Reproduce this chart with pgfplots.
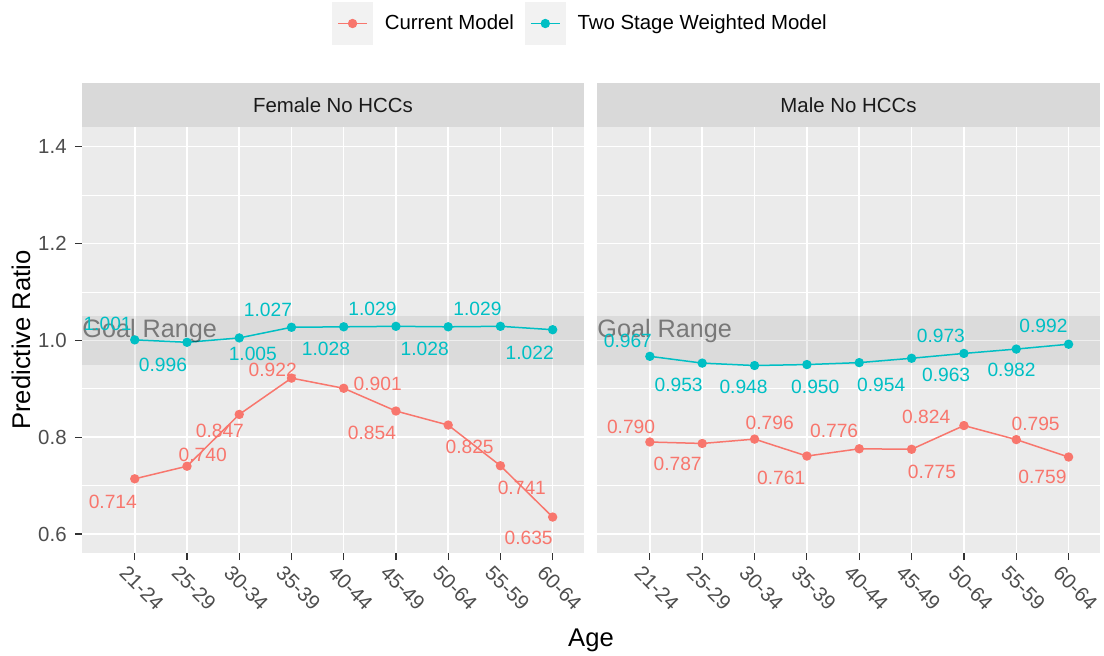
\documentclass[border=0pt]{standalone}
\usepackage{fontspec}
\setmainfont{Liberation Sans}
\usepackage{pgfplots}
\pgfplotsset{compat=1.18}
\usepackage{pgfplotstable}

\definecolor{cur}{HTML}{F8766D}
\definecolor{two}{HTML}{00BFC4}
\definecolor{panelbg}{HTML}{EBEBEB}
\definecolor{stripbg}{HTML}{D9D9D9}
\definecolor{tickc}{HTML}{4D4D4D}
\definecolor{tickm}{HTML}{333333}
\definecolor{stript}{HTML}{1A1A1A}

\pgfplotstableread{
x cur two
1 0.714 1.001
2 0.740 0.996
3 0.847 1.005
4 0.922 1.027
5 0.901 1.028
6 0.854 1.029
7 0.825 1.028
8 0.741 1.029
9 0.635 1.022
}\female

\pgfplotstableread{
x cur two
1 0.790 0.967
2 0.787 0.953
3 0.796 0.948
4 0.761 0.950
5 0.776 0.954
6 0.775 0.963
7 0.824 0.973
8 0.795 0.982
9 0.759 0.992
}\male

\pgfplotstableread{
x y lab
0.48 1.035 1.001
1.54 0.950 0.996
3.26 0.973 1.005
3.55 1.062 1.027
4.66 0.983 1.028
5.55 1.064 1.029
6.55 0.983 1.028
7.56 1.064 1.029
8.56 0.975 1.022
}\ftwolab

\pgfplotstableread{
x y lab
0.58 0.667 0.714
2.30 0.764 0.740
2.63 0.812 0.847
3.64 0.940 0.922
5.65 0.911 0.901
5.54 0.808 0.854
7.41 0.779 0.825
8.41 0.696 0.741
8.54 0.591 0.635
}\fcurlab

\pgfplotstableread{
x y lab
0.58 0.998 0.967
1.55 0.907 0.953
2.79 0.903 0.948
4.16 0.903 0.950
5.42 0.907 0.954
6.66 0.928 0.963
6.56 1.010 0.973
7.91 0.938 0.982
8.52 1.029 0.992
}\mtwolab

\pgfplotstableread{
x y lab
0.64 0.822 0.790
1.53 0.744 0.787
3.29 0.830 0.796
3.51 0.715 0.761
4.52 0.812 0.776
6.39 0.729 0.775
6.28 0.841 0.824
8.37 0.828 0.795
8.50 0.717 0.759
}\mcurlab

\newcommand{\tickfont}{\fontsize{10.2}{12}\selectfont}
\newcommand{\labfont}{\fontsize{9.6}{11}\selectfont}

\pgfplotsset{
  panel/.style={
    scale only axis, height=213pt,
    xmin=-0.01, xmax=9.6, ymin=0.5607, ymax=1.4407,
    axis background/.style={fill=panelbg},
    axis line style={draw=none},
    clip=false,
    xtick={1,...,9},
    xticklabels={21-24,25-29,30-34,35-39,40-44,45-49,50-64,55-59,60-64},
    ytick={0.6,0.8,1.0,1.2,1.4},
    minor ytick={0.7,0.9,1.1,1.3},
    grid=both,
    major grid style={white, line width=0.75pt},
    minor grid style={white, line width=0.4pt},
    tick align=outside, tick pos=left,
    major tick length=3.5pt, minor tick length=0pt,
    tick style={tickm, line width=0.6pt},
    xticklabel style={font=\tickfont, text=tickc, inner sep=0pt, xshift=-3.2pt, yshift=-2pt, rotate=-45, anchor=north west},
    yticklabel style={font=\tickfont, text=tickc, inner sep=0pt, anchor=east, xshift=-4pt},
  },
  band/.style={draw=none, fill=black, fill opacity=0.065, forget plot},
  lbl/.style={draw=none, mark=none, forget plot, nodes near coords, point meta=explicit symbolic,
    nodes near coords style={text=#1, font=\labfont, anchor=center, inner sep=0pt}},
  ser/.style={#1, line width=0.75pt, mark=*, mark size=1.95pt, mark options={solid}},
}

\begin{document}
\begin{tikzpicture}
\useasboundingbox (0,0) rectangle (552pt,-327.5pt);

% left panel
\begin{axis}[panel, width=251pt, at={(41pt,-276.5pt)}, anchor=south west,
  yticklabels={0.6,0.8,1.0,1.2,1.4},
  legend columns=2,
  legend cell align=left,
  legend style={at={(0.995,1.243)}, anchor=center, draw=none, fill=none,
    font=\tickfont, text=black,
    /tikz/every odd column/.append style={column sep=4pt},
    /tikz/every even column/.append style={column sep=3.5pt}},
  legend image code/.code={
    \fill[black!5] (0pt,-10.25pt) rectangle (19.5pt,10.25pt);
    \draw[mark repeat=2,mark phase=2,#1] plot coordinates {(2.5pt,0pt) (9.75pt,0pt) (17pt,0pt)};
  },
]
\addplot[band] coordinates {(-0.01,0.95) (9.6,0.95) (9.6,1.05) (-0.01,1.05)} -- cycle;
\fill[stripbg] (rel axis cs:0,1) rectangle ([yshift=22pt]rel axis cs:1,1);
\node[font=\tickfont, text=stript] at ([yshift=11pt]rel axis cs:0.5,1) {Female No HCCs};
\addplot[ser=cur] table[x=x, y=cur] {\female};
\addplot[ser=two] table[x=x, y=two] {\female};
\addplot[lbl=cur] table[x=x, y=y, meta=lab] {\fcurlab};
\addplot[lbl=two] table[x=x, y=y, meta=lab] {\ftwolab};
\node[anchor=west, inner sep=0pt, text=black, text opacity=0.45, font=\fontsize{12.6}{15}\selectfont] at (axis cs:-0.01,1.02) {Goal Range};
\legend{Current Model, Two Stage Weighted Model}
\end{axis}

% right panel
\begin{axis}[panel, width=251.5pt, at={(298.5pt,-276.5pt)}, anchor=south west,
  yticklabels={}, ytick style={draw=none}]
\addplot[band] coordinates {(-0.01,0.95) (9.6,0.95) (9.6,1.05) (-0.01,1.05)} -- cycle;
\fill[stripbg] (rel axis cs:0,1) rectangle ([yshift=22pt]rel axis cs:1,1);
\node[font=\tickfont, text=stript] at ([yshift=11pt]rel axis cs:0.5,1) {Male No HCCs};
\addplot[ser=cur] table[x=x, y=cur] {\male};
\addplot[ser=two] table[x=x, y=two] {\male};
\addplot[lbl=cur] table[x=x, y=y, meta=lab] {\mcurlab};
\addplot[lbl=two] table[x=x, y=y, meta=lab] {\mtwolab};
\node[anchor=west, inner sep=0pt, text=black, text opacity=0.45, font=\fontsize{12.6}{15}\selectfont] at (axis cs:-0.01,1.02) {Goal Range};
\end{axis}

\node[font=\fontsize{12.8}{15}\selectfont] at (295.5pt,-320pt) {Age};
\node[rotate=90, font=\fontsize{12.8}{15}\selectfont] at (10.5pt,-170pt) {Predictive Ratio};
\end{tikzpicture}
\end{document}
